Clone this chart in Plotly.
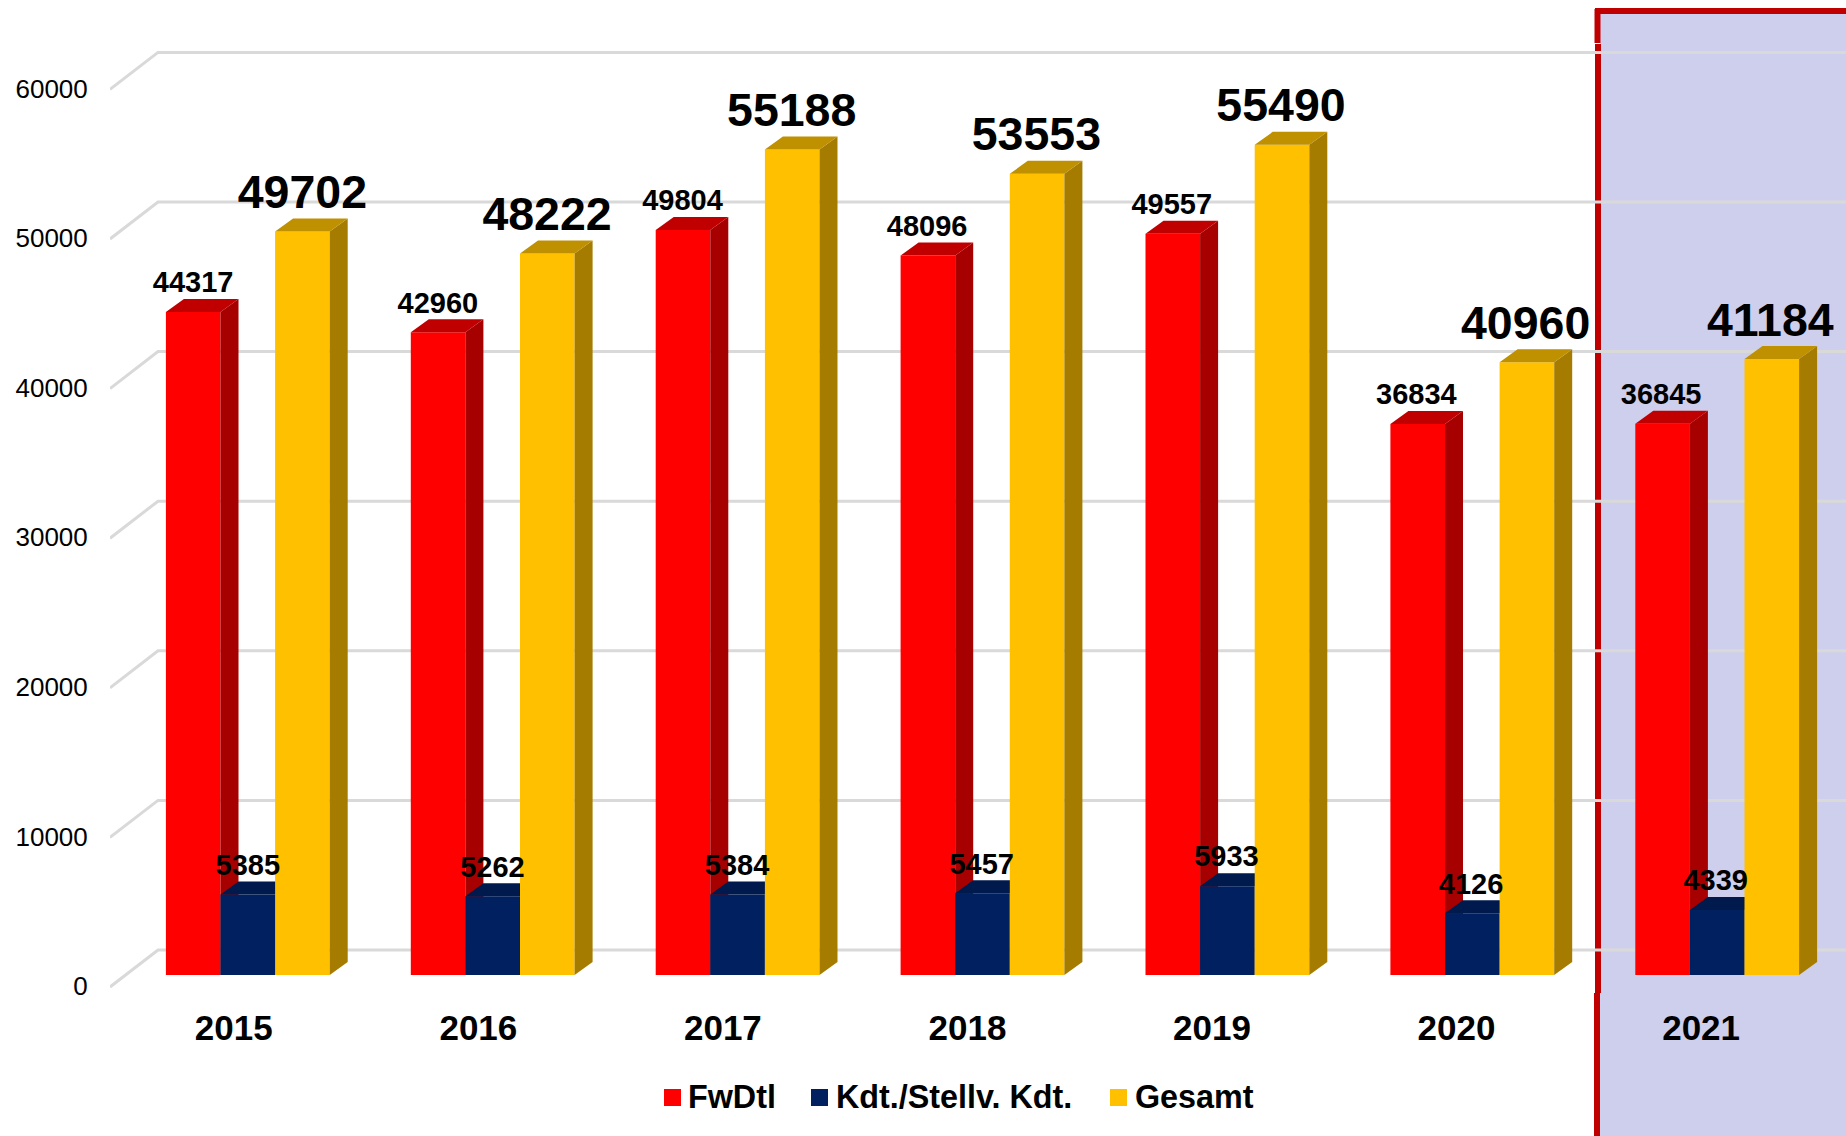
import plotly.graph_objects as go

years = [2015, 2016, 2017, 2018, 2019, 2020, 2021]
fwdtl = [44317, 42960, 49804, 48096, 49557, 36834, 36845]
kdt = [5385, 5262, 5384, 5457, 5933, 4126, 4339]
gesamt = [49702, 48222, 55188, 53553, 55490, 40960, 41184]
y_ticks = [0, 10000, 20000, 30000, 40000, 50000, 60000]

W, H = 1846, 1136
PLOT_L, PLOT_B = 110, 990
PX_PER_YEAR = 244.9
PX_PER_UNIT = 0.01496
ZERO_PX = 975.0
GROUP0_PX = 247.8
FONT = "Liberation Sans, Arial, sans-serif"


def x_of(px):
    return 2015 + (px - GROUP0_PX) / PX_PER_YEAR


def dy_of(px):
    return px / PX_PER_UNIT


x_range = [x_of(PLOT_L), x_of(W)]
y_range = [-dy_of(PLOT_B - ZERO_PX), dy_of(ZERO_PX)]
BAR_W = 54.6 / PX_PER_YEAR
DX, DY = 18 / PX_PER_YEAR, dy_of(13)
FLOOR_FRONT, FLOOR_BACK = -dy_of(12), dy_of(25)


def paper_x(px):
    return (px - PLOT_L) / (W - PLOT_L)


def paper_y(px):
    return (PLOT_B - px) / PLOT_B


def faces(values, slot):
    """Top and side faces of the pseudo-3D bars in data coordinates."""
    top_x, top_y, side_x, side_y = [], [], [], []
    for yr, v in zip(years, values):
        l = yr + (slot - 1.5) * BAR_W
        r = l + BAR_W
        top_x += [l, l + DX, r + DX, r, l, None]
        top_y += [v, v + DY, v + DY, v, v, None]
        side_x += [r, r + DX, r + DX, r, r, None]
        side_y += [v, v + DY, DY, 0, v, None]
    return top_x, top_y, side_x, side_y


def poly(x, y, color, z):
    return go.Scatter(x=x, y=y, mode="lines", fill="toself", fillcolor=color,
                      line=dict(width=0, color=color), showlegend=False,
                      hoverinfo="skip", zorder=z)


fig = go.Figure()

# back wall and floor grid
gx, gy = [], []
for t in y_ticks:
    gx += [x_of(PLOT_L), x_of(158), x_of(W), None]
    gy += [t + FLOOR_FRONT, t + FLOOR_BACK, t + FLOOR_BACK, None]
fig.add_trace(go.Scatter(x=gx, y=gy, mode="lines", line=dict(color="#D9D9D9", width=3),
                         showlegend=False, hoverinfo="skip", cliponaxis=False, zorder=0))

series = [
    ("FwDtl", fwdtl, "#FF0000", "#C00000", "#A60000", 1),
    ("Kdt./Stellv. Kdt.", kdt, "#002060", "#001A4D", "#001A4D", 2),
    ("Gesamt", gesamt, "#FFC000", "#BF9000", "#A67C00", 3),
]
for slot, (name, vals, front, top, side, z) in enumerate(series):
    tx, ty, sx, sy = faces(vals, slot)
    fig.add_trace(go.Bar(x=years, y=vals, name=name, marker=dict(color=front, line=dict(width=0)),
                         hoverinfo="x+y", zorder=z))
    fig.add_trace(poly(sx, sy, side, z))
    fig.add_trace(poly(tx, ty, top, z))

# data labels
for slot, vals, size, lift in [(0, fwdtl, 29, 27), (1, kdt, 29, 27), (2, gesamt, 46.5, 35)]:
    fig.add_trace(go.Scatter(
        x=[yr + (slot - 1) * BAR_W - 1.5 * (yr - 2015) / 6 / PX_PER_YEAR for yr in years],
        y=[v + dy_of(lift) for v in vals],
        text=[str(v) for v in vals], mode="text", textposition="middle center",
        textfont=dict(family=FONT, size=size, color="#000000", weight="bold"),
        showlegend=False, hoverinfo="skip", cliponaxis=False, zorder=4))


def seg(x0, y0, x1, y1, width):
    return dict(type="line", xref="paper", yref="paper", x0=paper_x(x0), x1=paper_x(x1),
                y0=paper_y(y0), y1=paper_y(y1), line=dict(color="#C00000", width=width), layer="below")


shapes = [
    dict(type="rect", xref="paper", yref="paper", x0=paper_x(1600), x1=paper_x(W),
         y0=paper_y(11), y1=paper_y(H), fillcolor="#CECEED", line=dict(width=0), layer="below"),
    seg(1595, 11, W, 11, 6),
    seg(1597.5, 9, 1597.5, 43, 6),
    seg(1598, 44, 1598, 993, 6),
    seg(1597, 993, 1597, H, 6),
]

# legend entries: swatch left edge, text left edge
legend_items = [("FwDtl", "#FF0000", 664, 687), ("Kdt./Stellv. Kdt.", "#002060", 811, 835),
                ("Gesamt", "#FFC000", 1110, 1134)]
annotations = []
for name, color, sw, tx in legend_items:
    shapes.append(dict(type="rect", xref="paper", yref="paper", x0=paper_x(sw), x1=paper_x(sw + 17),
                       y0=paper_y(1089), y1=paper_y(1106), fillcolor=color, line=dict(width=0)))
    annotations.append(dict(xref="paper", yref="paper", x=paper_x(tx), y=paper_y(1097), text=name,
                            showarrow=False, xanchor="left", yanchor="middle", xshift=-1,
                            font=dict(family=FONT, size=32.3, color="#000000", weight="bold")))

fig.update_layout(
    width=W, height=H, autosize=False,
    margin=dict(l=PLOT_L, r=0, t=0, b=H - PLOT_B, pad=0),
    paper_bgcolor="#FFFFFF", plot_bgcolor="rgba(0,0,0,0)",
    barmode="group", bargap=1 - 3 * BAR_W, bargroupgap=0, showlegend=False,
    font=dict(family=FONT, color="#000000"),
    shapes=shapes, annotations=annotations,
    xaxis=dict(range=x_range, tickmode="array",
               tickvals=[y - (14 + 0.35 * (y - 2015)) / PX_PER_YEAR for y in years],
               ticktext=[str(y) for y in years], showgrid=False, zeroline=False, showline=False,
               ticks="outside", ticklen=7, tickcolor="rgba(0,0,0,0)",
               tickfont=dict(family=FONT, size=35, color="#000000", weight="bold")),
    yaxis=dict(range=y_range, tickmode="array", tickvals=[t + FLOOR_FRONT + dy_of(1) for t in y_ticks],
               ticktext=[str(t) for t in y_ticks], showgrid=False, zeroline=False, showline=False,
               ticks="outside", ticklen=16, tickcolor="rgba(0,0,0,0)",
               tickfont=dict(family=FONT, size=26, color="#000000")),
)
fig.write_html("out.html", config=dict(displayModeBar=False),
               post_script="document.body.style.margin='0';document.documentElement.style.overflow='hidden';")
